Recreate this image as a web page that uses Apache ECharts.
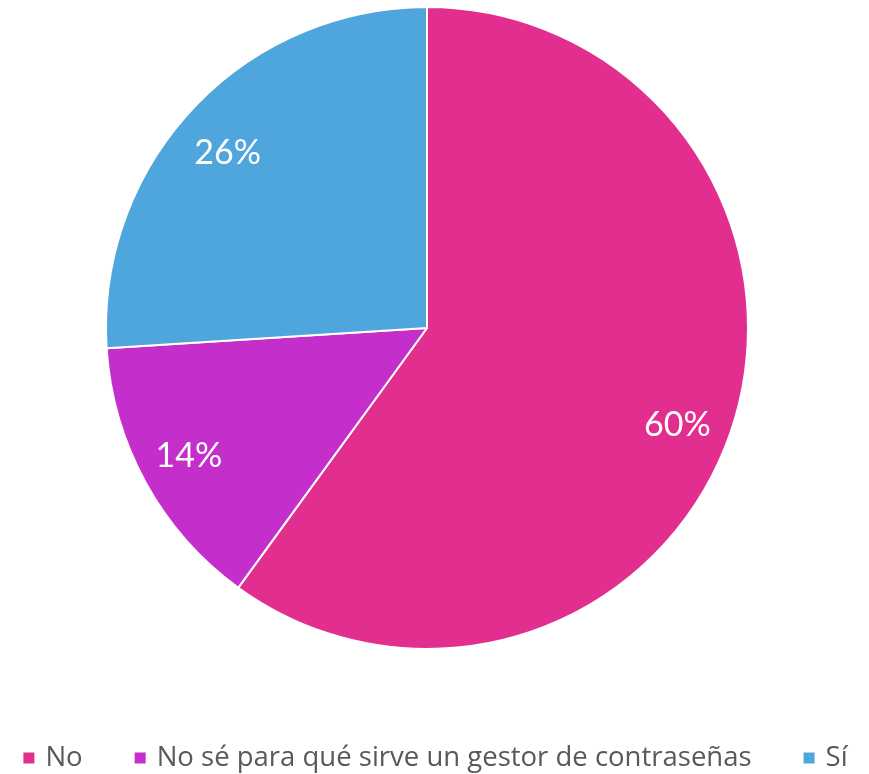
<!DOCTYPE html>
<html>
<head>
<meta charset="utf-8">
<script src="https://cdn.jsdelivr.net/npm/echarts@6/dist/echarts.min.js"></script>
<style>
  html, body { margin: 0; padding: 0; background: #fff; }
  #chart { width: 869px; height: 774px; }
</style>
</head>
<body>
<div id="chart"></div>
<script>
// Survey answers and their shares (percent)
const categories = ['No', 'No sé para qué sirve un gestor de contraseñas', 'Sí'];
const values = [60, 14, 26];
const colors = ['#E22F8F', '#C42FCB', '#4EA6DC'];
// small nudges for the percentage labels
const labelOffsets = [[-6, 14], [-2, -2], [-3, 10]];

const center = [427, 328];
const outerRadius = 321;

const chart = echarts.init(document.getElementById('chart'));
chart.setOption({
  animation: false,
  legend: {
    top: 738,
    left: 'center',
    icon: 'rect',
    itemWidth: 13,
    itemHeight: 13,
    itemGap: 50,
    textStyle: {
      color: '#595959',
      fontSize: 27.5,
      lineHeight: 30,
      fontFamily: 'Open Sans',
      padding: [0, 0, 0, 5]
    },
    data: categories
  },
  series: [
    {
      type: 'pie',
      center: center,
      radius: [0, outerRadius],
      startAngle: 90,
      clockwise: true,
      label: { show: false },
      labelLine: { show: false },
      itemStyle: { borderColor: '#fff', borderWidth: 2 },
      emphasis: { disabled: true },
      data: categories.map((name, i) => ({
        name: name,
        value: values[i],
        itemStyle: { color: colors[i] }
      }))
    },
    {
      // transparent ring that carries the percentage labels further out
      type: 'pie',
      center: center,
      radius: [Math.round(outerRadius * 0.66), outerRadius],
      startAngle: 90,
      clockwise: true,
      silent: true,
      legendHoverLink: false,
      itemStyle: { color: 'rgba(0,0,0,0)' },
      label: {
        show: true,
        position: 'inside',
        formatter: p => p.value + '%',
        color: '#fff',
        fontSize: 34,
        fontFamily: 'Lato'
      },
      labelLine: { show: false },
      data: categories.map((name, i) => ({
        name: name,
        value: values[i],
        label: { offset: labelOffsets[i] }
      }))
    }
  ]
});
</script>
</body>
</html>
